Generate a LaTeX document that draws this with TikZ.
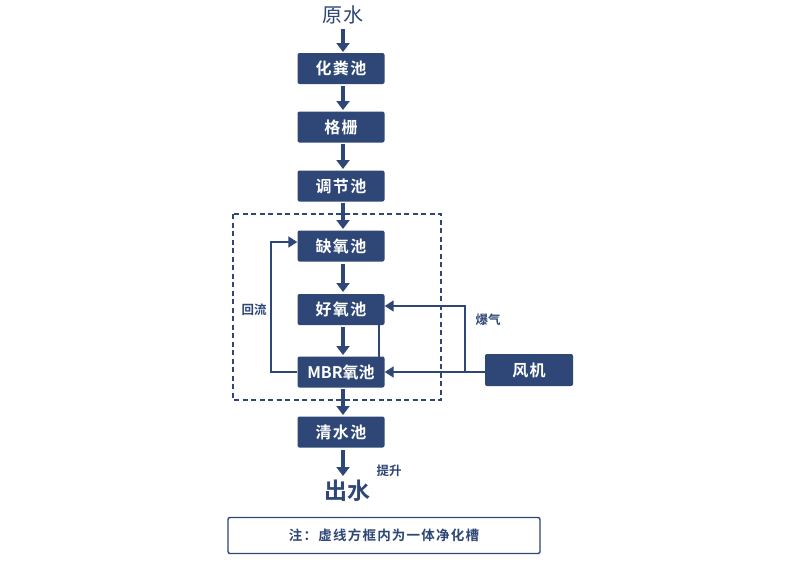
\documentclass[tikz,border=0pt]{standalone}
\usepackage{fontspec}
\setmainfont{Noto Sans CJK SC}
\newfontfamily\cjkb{Noto Sans CJK SC Bold}
\newfontfamily\cjkbs[LetterSpace=9]{Noto Sans CJK SC Bold}
\newfontfamily\cjks[LetterSpace=6]{Noto Sans CJK SC}
\usetikzlibrary{arrows.meta}
\definecolor{navy}{RGB}{46,71,118}
\tikzset{
  x=1pt,y=-1pt,
  tank/.style={draw=none,fill=navy,rounded corners=2pt,minimum width=87pt,minimum height=31pt,inner sep=0pt,text=white,font=\cjkbs\fontsize{16}{18}\selectfont},
  flow/.style={navy,line width=3.5pt,-{Triangle[width=13pt,length=9pt]}},
  thin/.style={navy,line width=1.6pt},
  thinarrow/.style={thin,-{Triangle[width=11pt,length=9pt]}},
  lbl/.style={text=navy,font=\cjkb\fontsize{12.5}{14}\selectfont,inner sep=0pt},
}
\begin{document}
\begin{tikzpicture}
\useasboundingbox (0,0) rectangle (800,566);
\fill[white] (0,0) rectangle (800,566);
\node[text=navy,font=\cjks\fontsize{20}{22}\selectfont,inner sep=0pt] (raw) at (343,15) {原水};
\node[tank] (hf) at (341,68.5) {化粪池};
\node[tank] (gs) at (341,127) {格栅};
\node[tank] (tj) at (341,186) {调节池};
\node[tank] (qy) at (341,246) {缺氧池};
\node[tank] (hy) at (341,309.5) {好氧池};
\node[tank,font=\cjkb\fontsize{16}{18}\selectfont] (mbr) at (341,372) {MBR氧池};
\node[tank] (qs) at (341,432) {清水池};
\node[tank,minimum width=88pt,minimum height=32pt] (fj) at (529,370) {风机};
\node[text=navy,font=\cjkb\fontsize{23}{26}\selectfont,inner sep=0pt] (out) at (347,491) {出水};
\node[lbl] (ts) at (389,471) {提升};
\node[lbl] (hl) at (254,310) {回流};
\node[lbl] (bq) at (488,320) {爆气};
\draw[navy,line width=1.4pt,dash pattern=on 5pt off 3.5pt] (233,214) rectangle (441,400);
\node[draw=navy,line width=1.4pt,rounded corners=2pt,minimum width=312pt,minimum height=36pt,inner sep=0pt,text=navy,font=\cjkbs\fontsize{13.5}{15}\selectfont] (note) at (384,535.5) {注：虚线方框内为一体净化槽};
% main flow
\draw[flow] (343,29) -- (343,52);
\draw[flow] (343,86) -- (343,110);
\draw[flow] (343,144) -- (343,169);
\draw[flow] (343,203) -- (343,229);
\draw[flow] (343,264) -- (343,292);
\draw[flow] (343,327) -- (343,355);
\draw[flow] (343,389) -- (343,415);
\draw[flow] (343,450) -- (343,476);
% return loop
\draw[thinarrow] (mbr.west) -- (271,372) -- (271,242) -- (qy.west |- 0,242);
% air
\draw[thinarrow] (fj.west |- 0,372) -- (mbr.east);
\draw[thinarrow] (465,372) -- (465,306) -- (hy.east |- 0,306);
\draw[thin] (379,325) -- (379,357);
\end{tikzpicture}
\end{document}
